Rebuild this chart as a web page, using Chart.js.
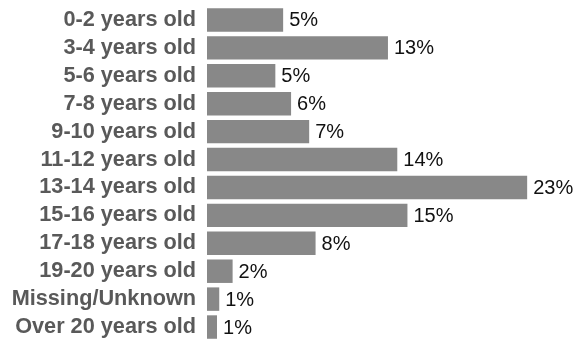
<!DOCTYPE html>
<html>
<head>
<meta charset="utf-8">
<script src="https://cdn.jsdelivr.net/npm/chart.js@4"></script>
<style>
html,body{margin:0;padding:0;background:#fff;overflow:hidden;}
#wrap{position:relative;width:582px;height:341px;}
</style>
</head>
<body>
<div id="wrap"><canvas id="c"></canvas></div>
<script>
const categories = ["0-2 years old","3-4 years old","5-6 years old","7-8 years old","9-10 years old","11-12 years old","13-14 years old","15-16 years old","17-18 years old","19-20 years old","Missing/Unknown","Over 20 years old"];
const values = [5.47, 13.0, 4.91, 6.04, 7.34, 13.67, 23.0, 14.4, 7.8, 1.84, 0.88, 0.72];
const valueLabels = ["5%","13%","5%","6%","7%","14%","23%","15%","8%","2%","1%","1%"];

const dataLabelPlugin = {
  id: 'dataLabels',
  afterDatasetsDraw(chart) {
    const ctx = chart.ctx;
    const meta = chart.getDatasetMeta(0);
    ctx.save();
    ctx.font = '20px "Liberation Sans", Arial, sans-serif';
    ctx.fillStyle = '#111111';
    ctx.textAlign = 'left';
    ctx.textBaseline = 'middle';
    meta.data.forEach((el, i) => {
      ctx.fillText(valueLabels[i], el.x + 6, el.y + 1);
    });
    ctx.restore();
  }
};

new Chart(document.getElementById('c'), {
  type: 'bar',
  data: {
    labels: categories,
    datasets: [{
      data: values,
      backgroundColor: '#888888',
      borderWidth: 0,
      barPercentage: 0.84,
      categoryPercentage: 1.0
    }]
  },
  options: {
    indexAxis: 'y',
    responsive: true,
    maintainAspectRatio: false,
    animation: false,
    layout: { padding: { top: 6, right: 27, bottom: 0, left: 0 } },
    plugins: { legend: { display: false }, tooltip: { enabled: false } },
    scales: {
      x: { display: false, min: 0, max: 25 },
      y: {
        grid: { display: false, drawTicks: false },
        border: { display: false },
        ticks: {
          autoSkip: false,
          padding: 11,
          color: '#595959',
          font: { family: '"Liberation Sans", Arial, sans-serif', size: 21.7, weight: 'bold' }
        },
        afterFit(scale) {
          scale.width = 207;
          scale.paddingTop = 0;
          scale.paddingBottom = 0;
        }
      }
    }
  },
  plugins: [dataLabelPlugin]
});
</script>
</body>
</html>
